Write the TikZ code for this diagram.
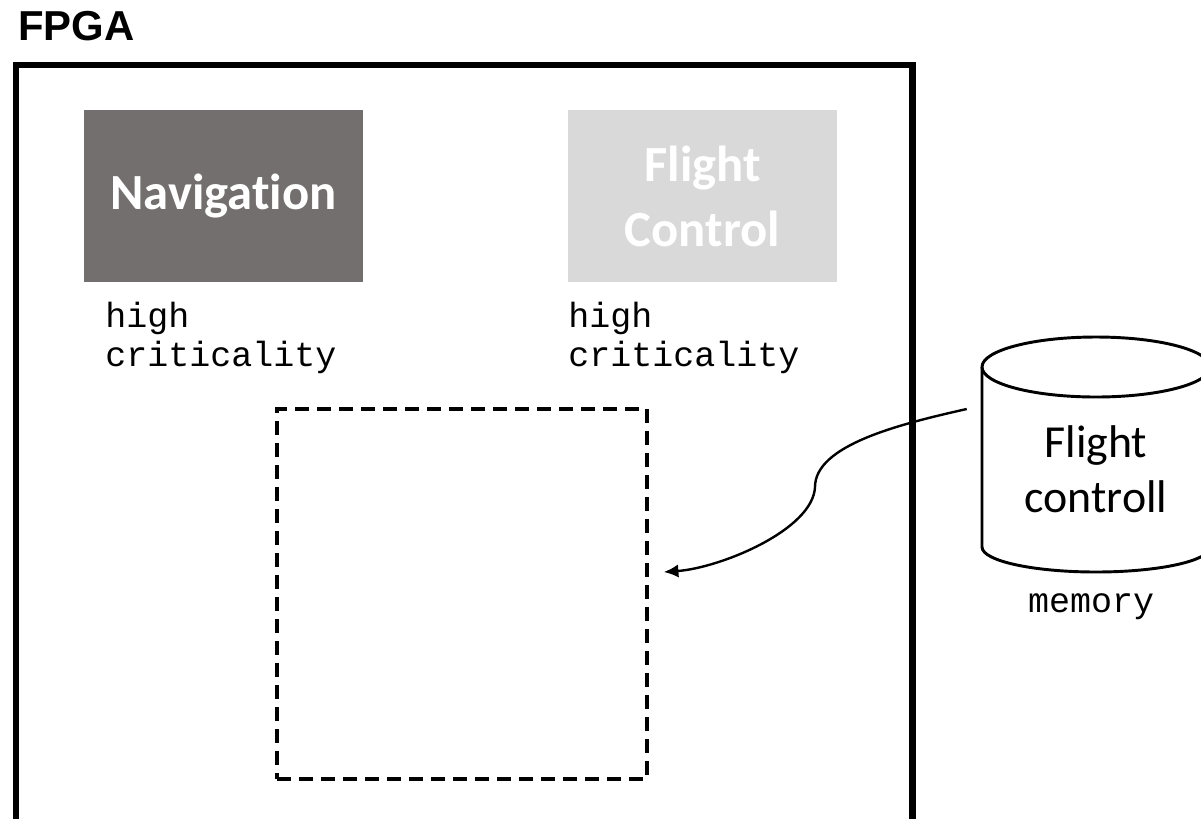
\documentclass[tikz,border=0pt]{standalone}
\usepackage{fontspec}
\newfontfamily\headfont{Liberation Sans}
\newfontfamily\blockfont[Ligatures=NoCommon]{Carlito}
\newfontfamily\codefont{Liberation Mono}
\usetikzlibrary{arrows.meta,calc}
\definecolor{navgray}{HTML}{736F6E}
\definecolor{ctlgray}{HTML}{D9D9D9}
\begin{document}
\begin{tikzpicture}[x=0.75pt,y=-0.75pt,
  title/.style={inner sep=0pt, font=\headfont\bfseries\fontsize{31.4}{36}\selectfont},
  chip/.style={draw, line width=5.2pt, inner sep=0pt, anchor=north west},
  block/.style={inner sep=0pt, text=white, align=center,
    font=\blockfont\bfseries\fontsize{38}{48.75}\selectfont},
  crit/.style={inner sep=0pt, align=left, font=\codefont\fontsize{26.25}{29.25}\selectfont},
  slotbox/.style={draw, dash pattern=on 10.5pt off 6pt, line width=2.6pt,
    inner sep=0pt, minimum size=277.5pt},
  store/.style={inner sep=0pt, align=center, minimum width=171pt, minimum height=120pt,
    font=\blockfont\fontsize{34.4}{41}\selectfont},
  cyl/.style={line width=2.2pt},
  link/.style={line width=1.8pt, -{Latex[length=11pt,width=10pt]}}
]
\clip (0,0) rectangle (1201,818);

% chip outline and its caption
\node[title, anchor=base west] (fpgalabel) at (18,40) {FPGA};
\node[chip, minimum width=672.4pt, minimum height=568.9pt] (fpga) at (12.5,61.5) {};

% the two partitions
\node[block, fill=navgray, minimum width=209.25pt, minimum height=129pt] (nav) at (223.5,196) {Navigation};
\node[block, fill=ctlgray, minimum width=201.75pt, minimum height=129pt] (fc) at (702.5,196) {Flight\\Control};
\node[crit, anchor=base west] (navcrit) at (105,366) {high\\criticality};
\node[crit, anchor=base west] (fccrit) at (568,366) {high\\criticality};

% free slot for the new partition
\node[slotbox] (slot) at (462,594) {};

% flight control memory (cylinder)
\draw[cyl] (1096,367) ellipse [x radius=114, y radius=30];
\draw[cyl] (982,367) -- (982,547) arc [start angle=180, end angle=0, x radius=114, y radius=25] -- (1210,367);
\node[store] (mem) at (1096,469) {Flight\\controll};
\node[crit, anchor=base] (memlbl) at (1091,612) {memory};

% loading the bitstream into the slot
\draw[link] ($(mem.west)+(-15,-60)$) .. controls (900,424) and (815,445) .. (815,487)
  .. controls (813,530) and (720,568) .. ($(slot.east)+(15,-22)$);
\end{tikzpicture}
\end{document}
